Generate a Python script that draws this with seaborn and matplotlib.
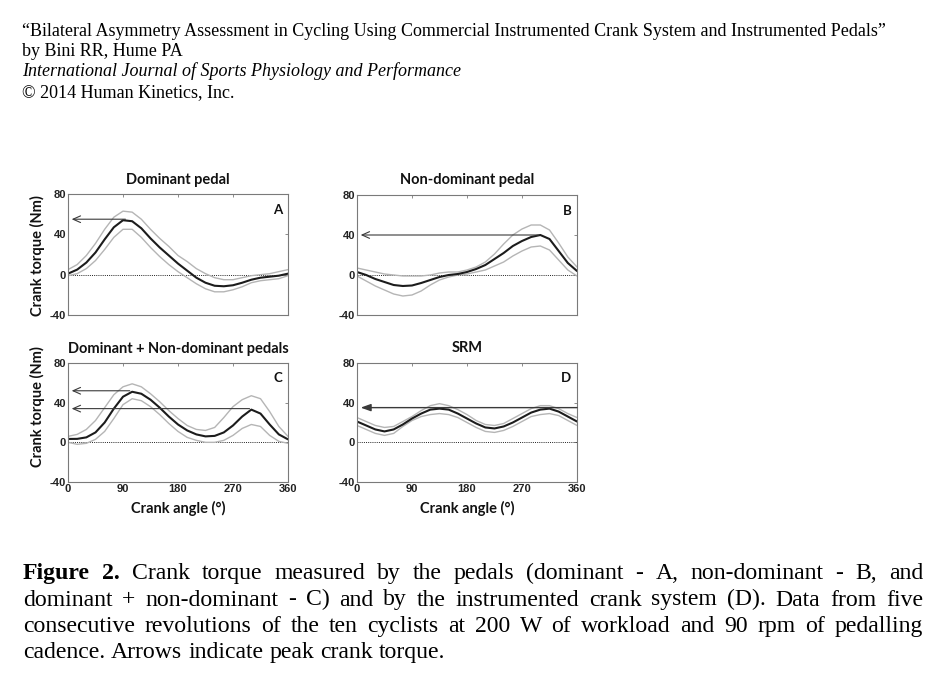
import numpy as np
import pandas as pd
import matplotlib
matplotlib.use('Agg')
import matplotlib.pyplot as plt
import seaborn as sns

# ---------------- data ----------------
angle = [0, 15, 30, 45, 60, 75, 90, 105, 120, 135, 150, 165, 180,
         195, 210, 225, 240, 255, 270, 285, 300, 315, 330, 345, 360]

dom_mean = [1, 5, 12, 22, 35, 47, 54, 53, 46, 36, 27, 19, 11,
            4, -3, -8, -11, -11.5, -10.5, -8, -5, -3, -2, -1, 1]
dom_upper = [5, 10, 19, 31, 45, 57, 63, 62, 55, 45, 36, 28, 19,
             13, 6, 1, -3, -5, -5, -3, -1, 0, 1, 3, 5]
dom_lower = [-1, 1, 6, 14, 25, 37, 45, 45, 37, 27, 18, 10, 3,
             -3, -9, -14, -17, -17, -15, -12, -8, -6, -5, -4, -1]

nd_mean = [3, 0, -4, -7, -10, -11, -10.5, -8, -5, -2, 0, 1, 3,
           6, 10, 16, 22, 29, 34, 38, 40, 36, 24, 12, 4]
nd_upper = [7, 5, 3, 1, 0, -1, -1, -1, 0, 2, 3, 3, 5,
            8, 13, 21, 31, 40, 46, 50, 50, 45, 32, 18, 8]
nd_lower = [-1, -6, -11, -15, -19, -21, -20, -16, -10, -5, -2, 0, 1,
            3, 5, 9, 13, 19, 24, 28, 29, 25, 15, 5, -1]

sum_mean = [3.4, 3.5, 5, 10, 20, 34, 46, 51, 49, 43, 35, 26, 18,
            12, 8, 6, 6.5, 10, 17, 26, 33, 29, 18, 8, 3]
sum_upper = [6, 8, 13, 22, 35, 48, 56, 59, 56, 49, 41, 32, 24,
             17, 13, 12, 15, 25, 36, 43, 47, 44, 31, 16, 6]
sum_lower = [0, -2, -1, 3, 11, 24, 38, 44, 42, 36, 28, 19, 11,
             5, 2, 0, 0, 2, 7, 14, 18, 16, 7, 1, -1]

srm_mean = [21, 17, 13, 11, 13, 18, 24, 29, 33, 34, 33, 29, 24,
            19, 15, 14, 16, 20, 25, 30, 33, 34, 31, 26, 21]
srm_upper = [25, 21, 17, 15, 16, 21, 26, 32, 37, 39, 37, 33, 28,
             22, 18, 17, 19, 24, 29, 34, 37, 37, 34, 29, 25]
srm_lower = [17, 13, 9, 7, 9, 16, 22, 26, 28, 29, 28, 25, 20,
             15, 11, 10, 12, 16, 21, 26, 28, 29, 27, 22, 17]

# peak arrows: (torque level, angle of peak)
arrows_A = [(55, 94)]
arrows_B = [(40, 297)]
arrows_C = [(52, 101), (34, 297)]
arrows_D = [(35, 360)]

panel_titles = ["Dominant pedal", "Non-dominant pedal",
                "Dominant + Non-dominant pedals", "SRM"]
panel_letters = ["A", "B", "C", "D"]
x_ticks = [0, 90, 180, 270, 360]
y_ticks = [-40, 0, 40, 80]

header_lines = [
    "\u201cBilateral Asymmetry Assessment in Cycling Using Commercial Instrumented Crank System and Instrumented Pedals\u201d",
    "by Bini RR, Hume PA",
    "International Journal of Sports Physiology and Performance",
    "\u00a9 2014 Human Kinetics, Inc.",
]
caption_lines = [
    "Figure 2. Crank torque measured by the pedals (dominant - A, non-dominant - B, and",
    "dominant + non-dominant - C) and by the instrumented crank system (D). Data from five",
    "consecutive revolutions of the ten cyclists at 200 W of workload and 90 rpm of pedalling",
    "cadence. Arrows indicate peak crank torque.",
]

# ---------------- figure ----------------
sns.set_theme(style='white')
plt.rcParams['font.family'] = ['DejaVu Sans']
plt.rcParams['axes.unicode_minus'] = False

W, H = 943, 689
fig = plt.figure(figsize=(W / 100, H / 100), dpi=100)
fig.patch.set_facecolor('white')
renderer = fig.canvas.get_renderer()


def add_ax(l, t, r, b):
    return fig.add_axes([l / W, 1 - b / H, (r - l) / W, (b - t) / H])


panels = [
    dict(box=(68, 194, 288, 315), up=dom_upper, lo=dom_lower, mean=dom_mean,
         arrows=arrows_A, xlabels=False, head='->'),
    dict(box=(357, 195, 577, 315), up=nd_upper, lo=nd_lower, mean=nd_mean,
         arrows=arrows_B, xlabels=False, head='->'),
    dict(box=(68, 363, 288, 482), up=sum_upper, lo=sum_lower, mean=sum_mean,
         arrows=arrows_C, xlabels=True, head='->'),
    dict(box=(357, 363, 577, 482), up=srm_upper, lo=srm_lower, mean=srm_mean,
         arrows=arrows_D, xlabels=True, head='-|>'),
]
title_y = [180, 180, 349, 348]

spine_col = '#7a7a7a'
for i, p in enumerate(panels):
    ax = add_ax(*p['box'])
    df = pd.DataFrame({'angle': angle, 'upper': p['up'],
                       'lower': p['lo'], 'mean': p['mean']})
    sns.lineplot(data=df, x='angle', y='upper', color='#b5b5b5', lw=1.0, ax=ax)
    sns.lineplot(data=df, x='angle', y='lower', color='#b5b5b5', lw=1.0, ax=ax)
    sns.lineplot(data=df, x='angle', y='mean', color='#1c1c1c', lw=1.5, ax=ax)
    ax.axhline(0, color='#222222', lw=0.7, ls=(0, (1, 1.2)), zorder=1)
    for lev, pk in p['arrows']:
        if p['head'] == '->':
            style = '->,head_length=0.45,head_width=0.2'
            lw = 0.8
        else:
            style = '-|>,head_length=0.5,head_width=0.18'
            lw = 1.0
        ax.annotate('', xy=(6, lev), xytext=(pk, lev),
                    arrowprops=dict(arrowstyle=style, color='#3a3a3a', lw=lw,
                                    shrinkA=0, shrinkB=0))
    ax.set_xlim(0, 360)
    ax.set_ylim(-40, 80)
    ax.set_xticks(x_ticks)
    ax.set_yticks(y_ticks)
    ax.set_xlabel('')
    ax.set_ylabel('')
    for s in ax.spines.values():
        s.set_color(spine_col)
        s.set_linewidth(0.8)
    ax.tick_params(direction='in', length=2.5, width=0.6, color=spine_col,
                   top=True, right=True, labelsize=8, pad=1.5,
                   labelcolor='#222222')
    if not p['xlabels']:
        ax.set_xticklabels([])
    for lab in ax.get_xticklabels() + ax.get_yticklabels():
        lab.set_fontweight('bold')
        lab.set_fontfamily('Liberation Sans')
    ax.text(0.975, 0.87, panel_letters[i], transform=ax.transAxes,
            ha='right', va='center', fontsize=9.5, fontweight='bold',
            fontfamily='Lato', color='#111111')
    cx = (p['box'][0] + p['box'][2]) / 2
    fig.text(cx / W, 1 - title_y[i] / H, panel_titles[i], ha='center',
             va='center', fontsize=10.5, fontweight='bold', fontfamily='Lato',
             color='#111111')

# axis labels
for yc in (256, 407):
    fig.text(37 / W, 1 - yc / H, 'Crank torque (Nm)', rotation=90,
             ha='center', va='center', fontsize=10.5, fontweight='bold',
             fontfamily='Lato', color='#111111')
for xc in (178, 467):
    fig.text(xc / W, 1 - 508 / H, 'Crank angle (\u00b0)', ha='center',
             va='center', fontsize=10.5, fontweight='bold', fontfamily='Lato',
             color='#111111')

# ---------------- header text ----------------
serif = 'Liberation Serif'
probe = fig.text(0, 0, header_lines[0], fontsize=12, fontfamily=serif)
hw = probe.get_window_extent(renderer).width
probe.remove()
hfs = 12 * 861 / hw
header_base = [36, 56.5, 76.5, 97]
for k, line in enumerate(header_lines):
    fig.text(22 / W, 1 - header_base[k] / H, line, fontsize=hfs,
             fontfamily=serif, fontstyle='italic' if k == 2 else 'normal',
             va='baseline', ha='left', color='black')

# ---------------- caption (justified) ----------------
probe = fig.text(0, 0, caption_lines[3], fontsize=15, fontfamily=serif)
cw = probe.get_window_extent(renderer).width
probe.remove()
cfs = 15 * 425 / cw
cap_base = [579, 605.5, 632, 658]
x_left, x_right = 23, 923
space_px = 0.25 * cfs * 100 / 72
for k, line in enumerate(caption_lines):
    words = line.split(' ')
    texts = []
    for j, w in enumerate(words):
        bold = (k == 0 and j < 2)
        t = fig.text(0, 1 - cap_base[k] / H, w, fontsize=cfs, fontfamily=serif,
                     fontweight='bold' if bold else 'normal', va='baseline',
                     ha='left', color='black')
        texts.append(t)
    widths = [t.get_window_extent(renderer).width for t in texts]
    if k < len(caption_lines) - 1:
        gap = (x_right - x_left - sum(widths)) / (len(words) - 1)
    else:
        gap = space_px
    x = x_left
    for t, wdt in zip(texts, widths):
        t.set_x(x / W)
        x += wdt + gap

fig.savefig('out.png', dpi=100, facecolor='white')
